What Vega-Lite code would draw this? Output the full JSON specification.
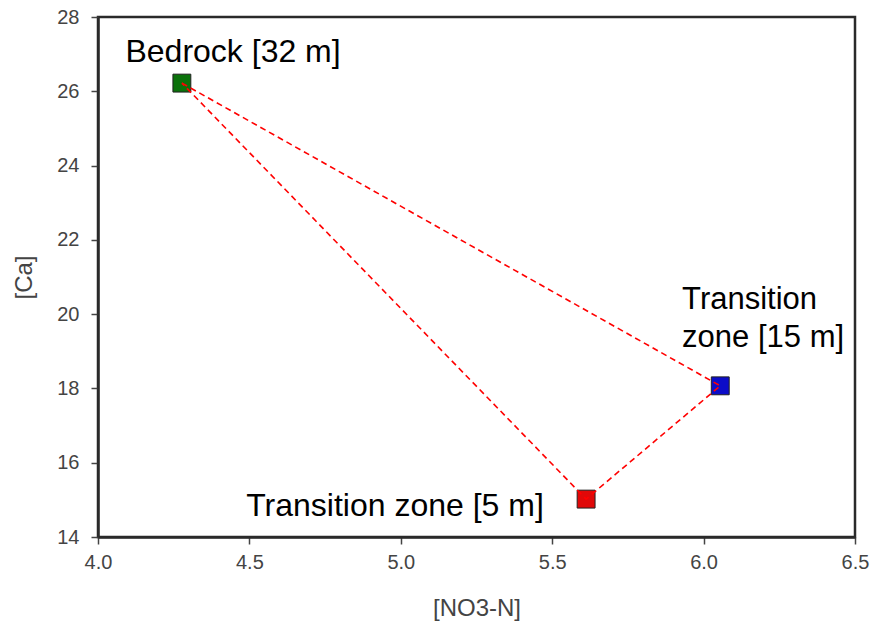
{
  "$schema": "https://vega.github.io/schema/vega-lite/v6.json",
  "width": 757,
  "height": 520,
  "autosize": {"type": "none"},
  "padding": {"left": 98, "top": 17, "right": 17, "bottom": 90},
  "background": "white",
  "config": {
    "view": {"stroke": "#2a2a2a", "strokeWidth": 2.5},
    "font": "Liberation Sans",
    "axis": {
      "grid": false,
      "domainColor": "#2a2a2a",
      "domainWidth": 2.5,
      "tickColor": "#444",
      "tickWidth": 1.5,
      "tickSize": 7,
      "labelColor": "#444",
      "labelFontSize": 20,
      "labelFont": "Liberation Sans",
      "labelFlush": false,
      "labelOverlap": false,
      "titleColor": "#444",
      "titleFontSize": 24,
      "titleFont": "Liberation Sans",
      "titleFontWeight": "normal"
    }
  },
  "datasets": {
    "pts": [
      {"name": "Bedrock [32 m]", "no3": 4.277, "ca": 26.22, "col": "green"},
      {"name": "Transition zone [15 m]", "no3": 6.055, "ca": 18.07, "col": "blue"},
      {"name": "Transition zone [5 m]", "no3": 5.612, "ca": 15.02, "col": "red"}
    ],
    "path": [
      {"ord": 1, "no3": 4.277, "ca": 26.22},
      {"ord": 2, "no3": 6.055, "ca": 18.07},
      {"ord": 3, "no3": 5.612, "ca": 15.02},
      {"ord": 4, "no3": 4.277, "ca": 26.22}
    ],
    "labelCenter": [
      {"text": "Bedrock [32 m]", "no3": 4.446, "ca": 26.79},
      {"text": "Transition zone [5 m]", "no3": 4.981, "ca": 14.565}
    ],
    "labelLeft": [
      {"text": ["Transition", "zone [15 m]"], "no3": 5.929, "ca": 20.14}
    ]
  },
  "layer": [
    {
      "data": {"name": "pts"},
      "mark": {"type": "square", "size": 320, "opacity": 1, "filled": true, "stroke": "#222", "strokeWidth": 1},
      "encoding": {
        "x": {"field": "no3", "type": "quantitative", "scale": {"domain": [4.0, 6.5], "nice": false, "zero": false},
          "axis": {"title": "[NO3-N]", "values": [4.0, 4.5, 5.0, 5.5, 6.0, 6.5], "format": ".1f", "labelPadding": 8, "titlePadding": 24}},
        "y": {"field": "ca", "type": "quantitative", "scale": {"domain": [14, 28], "nice": false, "zero": false},
          "axis": {"title": "[Ca]", "values": [14, 16, 18, 20, 22, 24, 26, 28], "labelPadding": 12, "titlePadding": 20}},
        "color": {"field": "col", "type": "nominal", "scale": {"domain": ["green", "blue", "red"], "range": ["#0b720b", "#0c0cc8", "#e00808"]}, "legend": null}
      }
    },
    {
      "data": {"name": "path"},
      "mark": {"type": "line", "color": "#ff0000", "strokeWidth": 1.6, "strokeDash": [6, 4]},
      "encoding": {
        "x": {"field": "no3", "type": "quantitative"},
        "y": {"field": "ca", "type": "quantitative"},
        "order": {"field": "ord", "type": "quantitative"}
      }
    },
    {
      "data": {"name": "labelCenter"},
      "mark": {"type": "text", "fontSize": 32, "font": "Liberation Sans", "color": "#000", "baseline": "alphabetic", "align": "center"},
      "encoding": {
        "x": {"field": "no3", "type": "quantitative"},
        "y": {"field": "ca", "type": "quantitative"},
        "text": {"field": "text"}
      }
    },
    {
      "data": {"name": "labelLeft"},
      "mark": {"type": "text", "fontSize": 31, "font": "Liberation Sans", "color": "#000", "baseline": "alphabetic", "align": "left", "lineHeight": 38},
      "encoding": {
        "x": {"field": "no3", "type": "quantitative"},
        "y": {"field": "ca", "type": "quantitative"},
        "text": {"field": "text"}
      }
    }
  ]
}
